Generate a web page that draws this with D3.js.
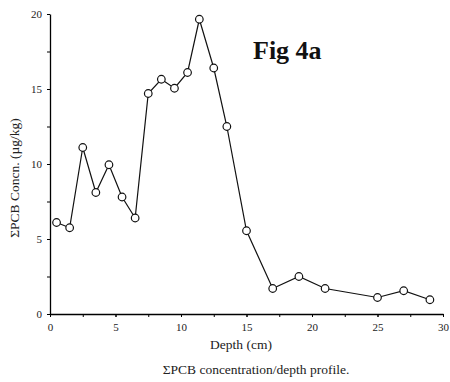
<!DOCTYPE html>
<meta charset="utf-8">
<html>
<head>
<script type="text/javascript" src="https://d3js.org/d3.v7.js"></script>
</head>
<body style="margin:0;background:#fff">
<div id="plotArea"></div>
<script>
  // data
  const depth = [0.5, 1.5, 2.5, 3.5, 4.5, 5.5, 6.5, 7.5, 8.5, 9.5, 10.5, 11.4, 12.5, 13.5, 15, 17, 19, 21, 25, 27, 29];
  const pcb   = [6.1, 5.75, 11.1, 8.1, 9.95, 7.8, 6.4, 14.7, 15.65, 15.05, 16.1, 19.65, 16.4, 12.5, 5.55, 1.7, 2.5, 1.7, 1.1, 1.55, 0.95];
  const xTicks = [0, 5, 10, 15, 20, 25, 30];
  const yTicks = [0, 5, 10, 15, 20];

  const serif = "'Liberation Serif', 'DejaVu Serif', serif";
  const W = 450, H = 382;
  const margin = {top: 14, right: 7, bottom: 68, left: 50};
  const width = W - margin.left - margin.right,
        height = H - margin.top - margin.bottom;

  const root = d3.select("#plotArea").append("svg")
    .attr("width", W).attr("height", H)
    .style("font-family", serif);
  const svg = root.append("g").attr("transform", `translate(${margin.left},${margin.top})`);

  const x = d3.scaleLinear().domain([0, 30]).range([0, width]);
  const y = d3.scaleLinear().domain([0, 20]).range([height, 0]);

  // minor ticks every 2.5
  svg.append("g").attr("transform", `translate(0,${height})`)
    .call(d3.axisBottom(x).tickValues(d3.range(0, 30.1, 2.5)).tickSize(3).tickFormat(""))
    .call(g => g.select(".domain").remove());
  svg.append("g")
    .call(d3.axisLeft(y).tickValues(d3.range(0, 20.1, 2.5)).tickSize(3).tickFormat(""))
    .call(g => g.select(".domain").remove());

  const xAxis = svg.append("g").attr("transform", `translate(0,${height})`)
    .call(d3.axisBottom(x).tickValues(xTicks).tickSize(3).tickSizeOuter(0).tickPadding(6));
  const yAxis = svg.append("g")
    .call(d3.axisLeft(y).tickValues(yTicks).tickSize(3).tickSizeOuter(0).tickPadding(5));
  [xAxis, yAxis].forEach(a => {
    a.attr("font-family", serif).attr("font-size", 11);
    a.selectAll("text").attr("fill", "#222");
    a.select(".domain").attr("stroke-width", 1.3);
  });

  // line + markers
  const pts = d3.zip(depth, pcb);
  svg.append("path").datum(pts)
    .attr("fill", "none").attr("stroke", "#111").attr("stroke-width", 1.2)
    .attr("d", d3.line().x(d => x(d[0])).y(d => y(d[1])));
  svg.append("g").selectAll("circle").data(pts).enter().append("circle")
    .attr("cx", d => x(d[0])).attr("cy", d => y(d[1])).attr("r", 3.8)
    .attr("fill", "white").attr("stroke", "#111").attr("stroke-width", 1.2);

  // labels
  root.append("text").attr("x", 241).attr("y", 349).attr("text-anchor", "middle")
    .style("font-size", "13.5px").attr("fill", "#222").text("Depth (cm)");
  root.append("text").attr("transform", "translate(19,178) rotate(-90)").attr("text-anchor", "middle")
    .style("font-size", "13.5px").attr("fill", "#222").text("ΣPCB Concn. (µg/kg)");
  root.append("text").attr("x", 256).attr("y", 374).attr("text-anchor", "middle")
    .style("font-size", "13.5px").attr("fill", "#222").text("ΣPCB concentration/depth profile.");
  root.append("text").attr("x", 253).attr("y", 59)
    .style("font-size", "26px").style("font-weight", "bold").attr("fill", "#111").text("Fig 4a");
</script>
</body>
</html>
